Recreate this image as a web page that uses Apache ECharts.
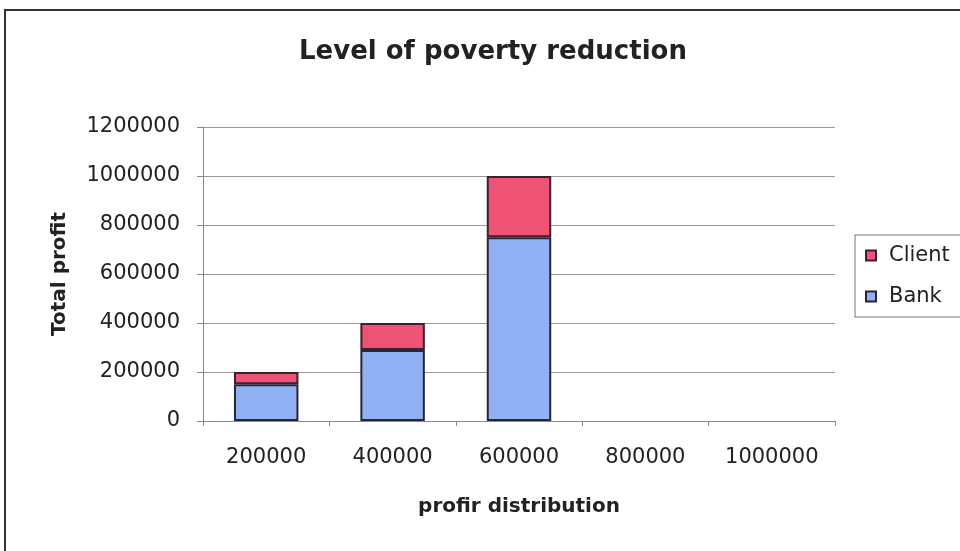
<!DOCTYPE html>
<html>
<head>
<meta charset="utf-8">
<script src="https://cdn.jsdelivr.net/npm/echarts@6/dist/echarts.min.js"></script>
<style>
  html, body { margin: 0; padding: 0; background: #fff; }
  #main { width: 960px; height: 551px; }
</style>
</head>
<body>
<div id="main"></div>
<script>
var categories = ["200000", "400000", "600000", "800000", "1000000"];
var bankValues = [150000, 290000, 750000, null, null];
var clientValues = [50000, 110000, 250000, null, null];

var chartDom = document.getElementById("main");
var myChart = echarts.init(chartDom);

var FONT = "DejaVu Sans";

var option = {
    backgroundColor: "#ffffff",
    animation: false,
    title: {
        text: "Level of poverty reduction",
        left: 488,
        textAlign: "center",
        top: 34,
        textStyle: {
            fontFamily: FONT,
            fontSize: 26,
            fontWeight: "bold",
            color: "#222",
        },
    },
    graphic: [
        {
            type: "rect",
            shape: { x: 5, y: 10, width: 970, height: 560 },
            style: { fill: "none", stroke: "#333", lineWidth: 2 },
            silent: true,
        },
    ],
    legend: {
        orient: "vertical",
        left: 855,
        top: 235,
        data: ["Client", "Bank"],
        icon: "rect",
        itemWidth: 10,
        itemHeight: 10,
        itemGap: 20,
        padding: [10, 30, 10, 10],
        borderColor: "#777",
        borderWidth: 1,
        textStyle: {
            fontFamily: FONT,
            fontSize: 21,
            color: "#222",
            padding: [0, 0, 0, 8],
        },
    },
    grid: {
        left: 203,
        right: 125,
        top: 127,
        bottom: 130,
    },
    xAxis: {
        type: "category",
        data: categories,
        name: "profir distribution",
        nameLocation: "middle",
        nameGap: 76,
        nameTextStyle: {
            fontFamily: FONT,
            fontSize: 20,
            fontWeight: "bold",
            color: "#222",
        },
        axisLine: { lineStyle: { color: "#888" } },
        axisTick: { show: true, length: 5, lineStyle: { color: "#888" } },
        axisLabel: {
            fontFamily: FONT,
            fontSize: 21,
            color: "#222",
            margin: 26,
        },
    },
    yAxis: {
        type: "value",
        min: 0,
        max: 1200000,
        interval: 200000,
        name: "Total profit",
        nameLocation: "middle",
        nameGap: 133,
        nameRotate: 90,
        nameTextStyle: {
            fontFamily: FONT,
            fontSize: 20,
            fontWeight: "bold",
            color: "#222",
        },
        axisLine: { show: true, lineStyle: { color: "#888" } },
        axisTick: { show: true, length: 6, lineStyle: { color: "#888" } },
        splitLine: { lineStyle: { color: "#999" } },
        axisLabel: {
            fontFamily: FONT,
            fontSize: 21,
            color: "#222",
            margin: 23,
            formatter: function (value) {
                return String(value);
            },
        },
    },
    series: [
        {
            name: "Bank",
            type: "bar",
            stack: "total",
            barWidth: "51%",
            data: bankValues,
            itemStyle: {
                color: "#92b1f4",
                borderColor: "#2a2436",
                borderWidth: 2,
            },
        },
        {
            name: "Client",
            type: "bar",
            stack: "total",
            barWidth: "51%",
            data: clientValues,
            itemStyle: {
                color: "#ee5376",
                borderColor: "#3a2030",
                borderWidth: 2,
            },
        },
    ],
};

option && myChart.setOption(option);
</script>
</body>
</html>
